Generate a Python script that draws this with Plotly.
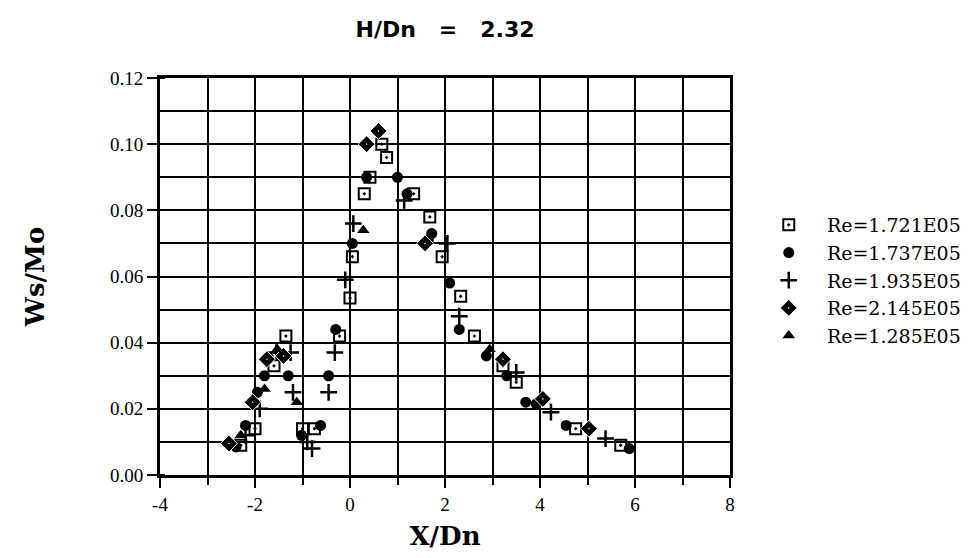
import plotly.graph_objects as go

# ---- data ----
names = ["Re=1.721E05", "Re=1.737E05", "Re=1.935E05", "Re=2.145E05", "Re=1.285E05"]

sq_x = [-2.3, -2.0, -1.6, -1.35, -1.0, -0.75, -0.22, 0.0, 0.05, 0.3, 0.42, 0.67, 0.77, 1.34, 1.68, 1.94, 2.33, 2.62, 3.22, 3.5, 4.75, 5.7]
sq_y = [0.009, 0.014, 0.033, 0.042, 0.014, 0.014, 0.042, 0.0535, 0.066, 0.085, 0.090, 0.100, 0.096, 0.085, 0.078, 0.066, 0.054, 0.042, 0.033, 0.028, 0.014, 0.009]

ci_x = [-2.4, -2.2, -1.95, -1.8, -1.72, -1.3, -1.02, -0.62, -0.45, -0.3, 0.05, 0.35, 1.0, 1.2, 1.65, 1.72, 2.1, 2.3, 2.87, 3.3, 3.7, 3.92, 4.55, 5.88]
ci_y = [0.0085, 0.015, 0.025, 0.030, 0.0355, 0.030, 0.012, 0.015, 0.030, 0.044, 0.070, 0.090, 0.090, 0.085, 0.071, 0.073, 0.058, 0.044, 0.036, 0.030, 0.022, 0.0215, 0.015, 0.008]

pl_x = [-2.2, -1.9, -1.55, -1.25, -1.2, -0.9, -0.8, -0.45, -0.32, -0.1, 0.07, 1.14, 2.05, 2.3, 3.5, 4.23, 5.38]
pl_y = [0.012, 0.020, 0.037, 0.037, 0.025, 0.010, 0.008, 0.025, 0.037, 0.059, 0.076, 0.083, 0.070, 0.048, 0.031, 0.019, 0.011]

di_x = [-2.55, -2.05, -1.75, -1.4, 0.35, 0.6, 1.58, 3.22, 4.06, 5.03]
di_y = [0.0095, 0.022, 0.035, 0.036, 0.100, 0.104, 0.070, 0.035, 0.023, 0.014]

tr_x = [-2.3, -1.8, -1.53, -1.12, 0.28, 2.94]
tr_y = [0.012, 0.026, 0.038, 0.022, 0.074, 0.038]

x_ticks = [-4, -2, 0, 2, 4, 6, 8]
x_ticktext = ["-4", "-2", "0", "2", "4", "6", "8"]
y_ticks = [0.00, 0.02, 0.04, 0.06, 0.08, 0.10, 0.12]
y_ticktext = ["0.00", "0.02", "0.04", "0.06", "0.08", "0.10", "0.12"]

pad = "\u00a0\u00a0\u00a0"
fig = go.Figure()
fig.add_trace(go.Scatter(x=sq_x, y=sq_y, mode="markers", name=pad + names[0],
                         marker=dict(symbol="square-open-dot", size=11, color="black", line=dict(width=2, color="black"))))
fig.add_trace(go.Scatter(x=ci_x, y=ci_y, mode="markers", name=pad + names[1],
                         marker=dict(symbol="circle", size=11, color="black", line=dict(width=0))))
fig.add_trace(go.Scatter(x=pl_x, y=pl_y, mode="markers", name=pad + names[2],
                         marker=dict(symbol="cross-thin", size=12, color="black", line=dict(width=2.5, color="black"))))
fig.add_trace(go.Scatter(x=di_x, y=di_y, mode="markers", name=pad + names[3],
                         marker=dict(symbol="diamond-dot", size=13, color="black", line=dict(width=1, color="white"))))
fig.add_trace(go.Scatter(x=tr_x, y=tr_y, mode="markers", name=pad + names[4],
                         marker=dict(symbol="triangle-up", size=11, color="black", line=dict(width=0))))

serif = "Liberation Serif, Times New Roman, serif"
wide_serif = "DejaVu Serif, serif"
fig.update_layout(
    width=971, height=558,
    paper_bgcolor="white", plot_bgcolor="white",
    margin=dict(l=152, r=249, t=70, b=91),
    title=dict(text="<b>H/Dn\u00a0\u00a0\u00a0=\u00a0\u00a0\u00a02.32</b>", x=437 / 971, xanchor="center",
               y=1 - 21 / 558, yanchor="middle",
               font=dict(family="DejaVu Sans, sans-serif", size=22, color="black")),
    legend=dict(x=1.068, y=0.49, xanchor="left", yanchor="middle",
                font=dict(family=wide_serif, size=19, color="black"),
                itemwidth=30, tracegroupgap=0, bgcolor="rgba(0,0,0,0)"),
    font=dict(family=serif, color="black"),
)
fig.update_xaxes(range=[-4, 8], tickvals=x_ticks, ticktext=x_ticktext, ticks="outside", ticklen=10, tickwidth=2,
                 tickcolor="black",
                 showline=True, linewidth=3, linecolor="black", mirror=True,
                 showgrid=True, gridcolor="black", gridwidth=2,
                 minor=dict(dtick=1, tick0=-4, ticks="outside", ticklen=7, tickwidth=2, tickcolor="black",
                            showgrid=True, gridcolor="black", gridwidth=2),
                 tickfont=dict(family=serif, size=19, color="black"),
                 title=dict(text="<b>X/Dn</b>", font=dict(family=wide_serif, size=26, color="black"), standoff=14),
                 zeroline=False)
fig.update_yaxes(range=[0, 0.12], tickvals=y_ticks, ticktext=y_ticktext, ticks="outside", ticklen=10, tickwidth=2,
                 tickcolor="black",
                 showline=True, linewidth=3, linecolor="black", mirror=True,
                 showgrid=True, gridcolor="black", gridwidth=2,
                 minor=dict(dtick=0.01, tick0=0, ticks="inside", ticklen=5, tickwidth=2, tickcolor="black",
                            showgrid=True, gridcolor="black", gridwidth=2),
                 tickfont=dict(family=serif, size=19, color="black"),
                 title=dict(text="<b>Ws/Mo</b>", font=dict(family=wide_serif, size=26, color="black"), standoff=58),
                 zeroline=False)

fig.write_html("out.html")
